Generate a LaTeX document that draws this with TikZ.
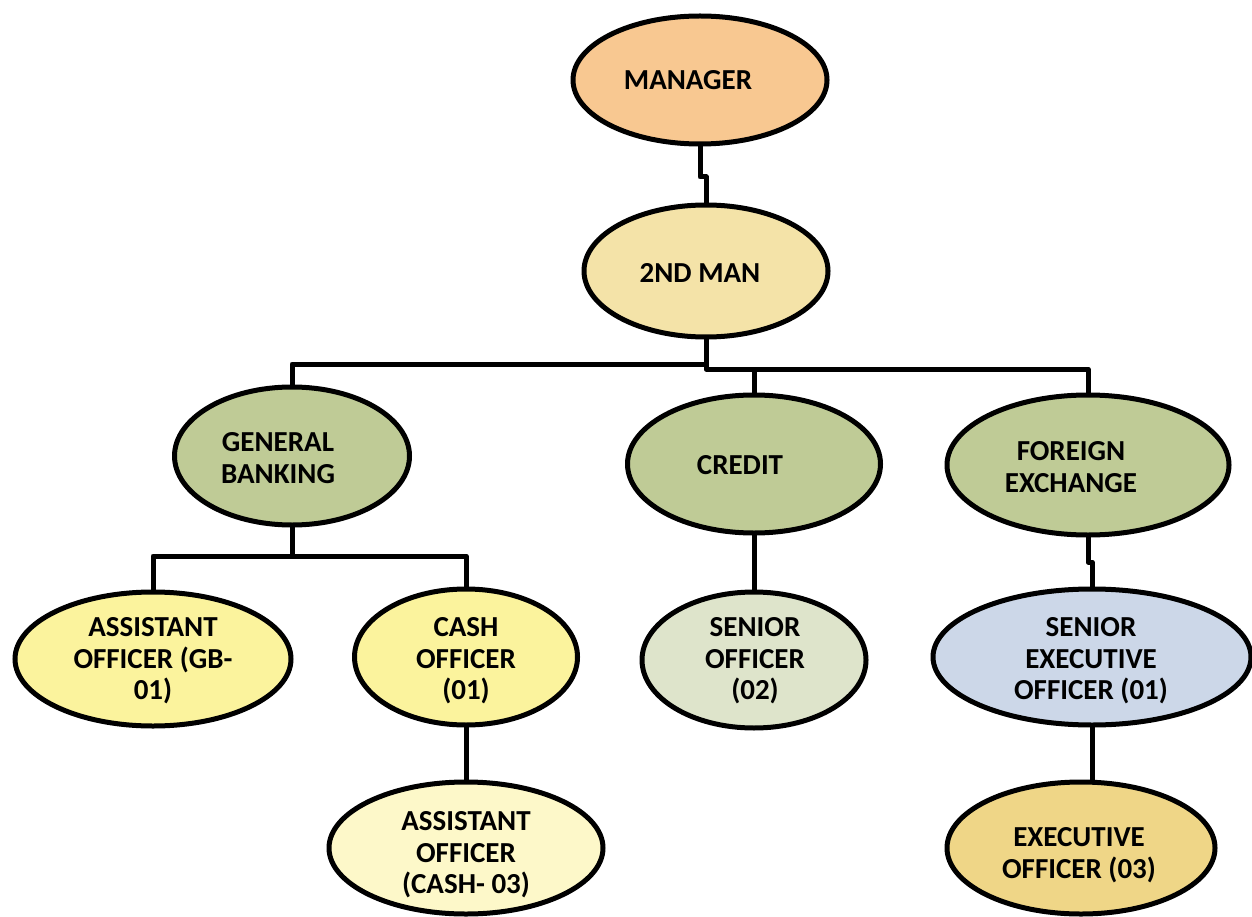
\documentclass[tikz,border=0pt]{standalone}
\usepackage{fontspec}
\setmainfont{Carlito}
\usetikzlibrary{positioning,shapes,backgrounds}
\definecolor{mgrorange}{HTML}{F8C891}
\definecolor{secondtan}{HTML}{F4E3A8}
\definecolor{deptgreen}{HTML}{BFCB96}
\definecolor{offyellow}{HTML}{FBF39D}
\definecolor{paleyellow}{HTML}{FDF8C9}
\definecolor{sagegrey}{HTML}{DEE4CB}
\definecolor{greyblue}{HTML}{CCD7E8}
\definecolor{darkgold}{HTML}{EFD687}

\begin{document}
\begin{tikzpicture}[x=1pt,y=-1pt]
  \tikzstyle{every node}=[inner sep=0,outer sep=0]
  \tikzstyle{post}=[ellipse,draw=black,line width=5]
  \tikzstyle{note}=[align=center,font=\fontsize{29}{31.5}\selectfont\bfseries]
  \tikzstyle{link}=[draw=black,line width=5,line join=round]
  \useasboundingbox (0,0) rectangle (1252,917);

  % posts
  \node[post,fill=mgrorange,minimum width=254,minimum height=128] (mgr) at (700,80) {};
  \node[post,fill=secondtan,minimum width=244,minimum height=132] (sman) at (706,271) {};
  \node[post,fill=deptgreen,minimum width=235,minimum height=138] (gb) at (292,456) {};
  \node[post,fill=deptgreen,minimum width=253,minimum height=138] (credit) at (754,464) {};
  \node[post,fill=deptgreen,minimum width=282,minimum height=140] (fx) at (1088,465) {};
  \node[post,fill=offyellow,minimum width=276,minimum height=134] (agb) at (153,659) {};
  \node[post,fill=offyellow,minimum width=223,minimum height=136] (cash) at (466,657) {};
  \node[post,fill=sagegrey,minimum width=224,minimum height=136] (senior) at (754,660) {};
  \node[post,fill=greyblue,minimum width=318,minimum height=136] (seo) at (1092,657) {};
  \node[post,fill=paleyellow,minimum width=274,minimum height=132] (acash) at (466,848) {};
  \node[post,fill=darkgold,minimum width=268,minimum height=132] (eo) at (1081,848) {};

  % labels
  \node[note] (mgr-t) at (688,80) {MANAGER};
  \node[note] (sman-t) at (700,273) {2ND MAN};
  \node[note] (gb-t) at (278,458) {GENERAL\\BANKING};
  \node[note] (credit-t) at (740,465) {CREDIT};
  \node[note] (fx-t) at (1071,467) {FOREIGN\\EXCHANGE};
  \node[note] (agb-t) at (153,661) {ASSISTANT\\OFFICER (GB-\\01)};
  \node[note] (cash-t) at (466,661) {CASH\\OFFICER\\(01)};
  \node[note] (senior-t) at (755,661) {SENIOR\\OFFICER\\(02)};
  \node[note] (seo-t) at (1091,661) {SENIOR\\EXECUTIVE\\OFFICER (01)};
  \node[note] (acash-t) at (466,855) {ASSISTANT\\OFFICER\\(CASH- 03)};
  \node[note] (eo-t) at (1079,855) {EXECUTIVE\\OFFICER (03)};

  % connectors
  \begin{scope}[on background layer]
    \coordinate (topbus) at (706,364);
    \coordinate (rightbus) at (706,369);
    \coordinate (gbbus) at (292,556);
    \draw[link] (mgr.south) -- ++(0,33) -| (sman.north);
    \draw[link] (sman.south) -- (topbus) -| (gb.north);
    \draw[link] (topbus) -- (rightbus) -| (fx.north);
    \draw[link] (credit.north) -- (credit.north |- rightbus);
    \draw[link] (gb.south) -- (gbbus) -| (agb.north);
    \draw[link] (gbbus) -| (cash.north);
    \draw[link] (credit.south) -- (senior.north);
    \draw[link] (fx.south) -- ++(0,27) -| (seo.north);
    \draw[link] (cash.south) -- (acash.north);
    \draw[link] (seo.south) -- (seo.south |- eo.north);
  \end{scope}
\end{tikzpicture}
\end{document}
